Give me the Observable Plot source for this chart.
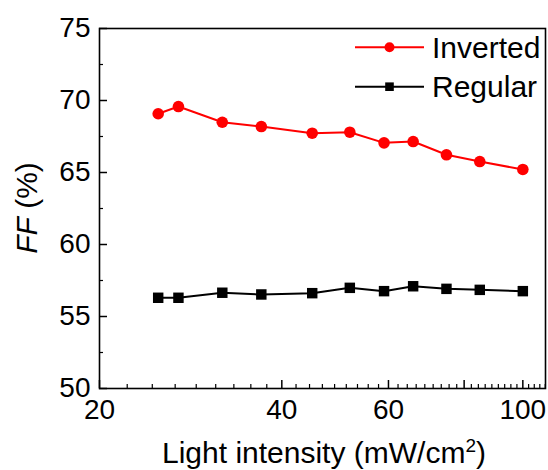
<!DOCTYPE html>
<html><head><meta charset="utf-8">
<script src="https://cdn.jsdelivr.net/npm/d3@7"></script>
<script src="https://cdn.jsdelivr.net/npm/@observablehq/plot@0.6"></script>
<style>body{margin:0;background:#fff;}</style>
</head><body><div id="chart"></div>
<script>
const intensity = [25.0, 27.0, 31.9, 37.0, 44.9, 51.8, 59.0, 65.9, 74.8, 84.9, 100];
const ffInverted = [69.08, 69.58, 68.49, 68.19, 67.73, 67.80, 67.06, 67.15, 66.23, 65.76, 65.21];
const ffRegular = [56.30, 56.30, 56.65, 56.53, 56.62, 56.99, 56.76, 57.10, 56.92, 56.85, 56.76];
const seriesNames = ["Inverted", "Regular"];
const seriesColors = ["#ff0000", "#000000"];
const xTicks = [20, 40, 60, 80, 100];
const yTicks = [50, 55, 60, 65, 70, 75];
const yMinor = [52.5, 57.5, 62.5, 67.5, 72.5];
const xDomain = [20, 109];
const yDomain = [50, 75];

const W = 548, H = 470;
const mL = 99, mR = 3, mT = 28, mB = 82;
const innerW = W - mL - mR, innerH = H - mT - mB;

// minor ticks: 8 subdivisions between majors (step 20/9)
const xMinor = d3.range(1, 45).filter(i => i % 9 !== 0).map(i => 20 + i * 20 / 9).filter(v => v <= xDomain[1]);

const data = intensity.flatMap((x, i) => [
  {x, y: ffInverted[i], s: seriesNames[0]},
  {x, y: ffRegular[i], s: seriesNames[1]}
]);

const font = "'Liberation Sans', Arial, Helvetica, sans-serif";
const tickFont = 28, titleFont = 30;

const svg = Plot.plot({
  width: W, height: H,
  marginLeft: mL, marginRight: mR, marginTop: mT, marginBottom: mB,
  style: {fontFamily: font, fontSize: tickFont + "px", background: "#fff", color: "#000", overflow: "visible"},
  x: {type: "log", domain: xDomain, axis: null},
  y: {domain: yDomain, axis: null},
  color: {domain: seriesNames, range: seriesColors},
  marks: [
    Plot.tickX(xTicks, {x: d => d, insetTop: innerH - 8, stroke: "#000", strokeWidth: 1.5}),
    Plot.tickX(xMinor, {x: d => d, insetTop: innerH - 4, stroke: "#000", strokeWidth: 1.2}),
    Plot.tickY(yTicks, {y: d => d, insetRight: innerW - 8, stroke: "#000", strokeWidth: 1.5}),
    Plot.tickY(yMinor, {y: d => d, insetRight: innerW - 4, stroke: "#000", strokeWidth: 1.2}),
    Plot.axisX(xTicks, {tickSize: 0, tickPadding: 11, tickFormat: d => String(d), fontSize: tickFont, label: null}),
    Plot.axisY(yTicks, {tickSize: 0, tickPadding: 9, tickFormat: d => String(d), fontSize: tickFont, label: null}),
    Plot.frame({stroke: "#000", strokeWidth: 1.6}),
    Plot.line(data, {x: "x", y: "y", z: "s", stroke: "s", strokeWidth: 2}),
    Plot.dot(data.filter(d => d.s === seriesNames[0]), {x: "x", y: "y", r: 5.8, fill: seriesColors[0], symbol: "circle"}),
    Plot.dot(data.filter(d => d.s === seriesNames[1]), {x: "x", y: "y", r: 5.9, fill: seriesColors[1], symbol: "square"})
  ]
});

const s = d3.select(svg);
// x title
const xt = s.append("text").attr("x", 324).attr("y", 463)
  .attr("text-anchor", "middle").attr("font-size", titleFont).attr("font-family", font).attr("fill", "#000");
xt.append("tspan").text("Light intensity (mW/cm");
xt.append("tspan").attr("dy", -11).attr("font-size", 19).text("2");
xt.append("tspan").attr("dy", 11).text(")");
// y title
const yt = s.append("text").attr("transform", `translate(37,${mT + innerH / 2}) rotate(-90)`)
  .attr("text-anchor", "middle").attr("font-size", titleFont).attr("font-family", font).attr("fill", "#000");
yt.append("tspan").attr("font-style", "italic").text("FF");
yt.append("tspan").text(" (%)");
// legend
const legRows = [47.3, 86.7];
seriesNames.forEach((name, i) => {
  const y = legRows[i];
  s.append("line").attr("x1", 355).attr("x2", 424).attr("y1", y).attr("y2", y)
    .attr("stroke", seriesColors[i]).attr("stroke-width", 2);
  if (i === 0) s.append("circle").attr("cx", 389.5).attr("cy", y).attr("r", 5).attr("fill", seriesColors[i]);
  else s.append("rect").attr("x", 389.5 - 4.3).attr("y", y - 4.3).attr("width", 8.6).attr("height", 8.6).attr("fill", seriesColors[i]);
  s.append("text").attr("x", 432).attr("y", y + 10.5).attr("text-anchor", "start").attr("font-size", titleFont).attr("font-family", font)
    .attr("fill", "#000").text(name);
});

document.getElementById("chart").appendChild(svg);
</script>
</body></html>
